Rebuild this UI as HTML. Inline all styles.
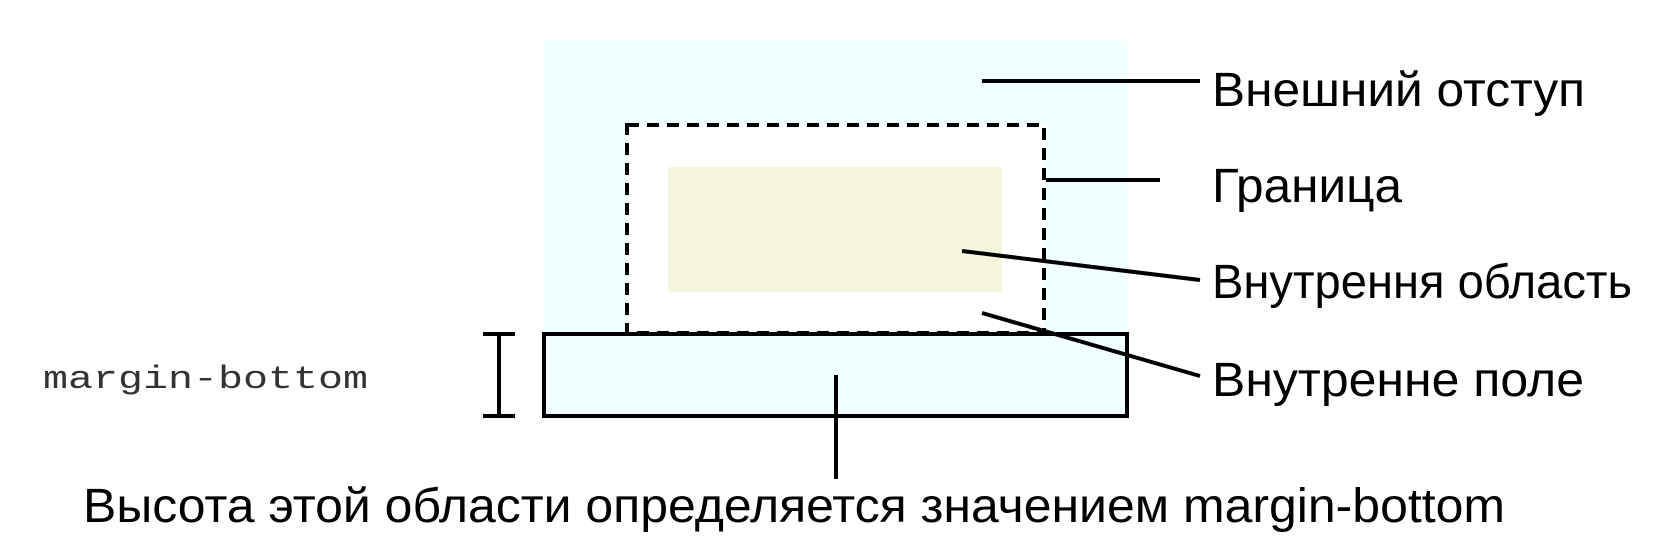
<!DOCTYPE html>
<html><head><meta charset="utf-8"><style>html,body{margin:0;padding:0;background:#fff}svg{display:block}</style></head>
<body>
<svg width="1667" height="542" viewBox="0 0 1667 542" xmlns="http://www.w3.org/2000/svg">
<rect x="543" y="41" width="584" height="375" fill="#f0ffff"/>
<rect x="627" y="125" width="417" height="208" fill="#fff"/>
<rect x="627" y="125" width="417" height="208" fill="none" stroke="#000" stroke-width="4" stroke-dasharray="12,8"/>
<rect x="668" y="167" width="334" height="125" fill="#f5f5dc"/>
<rect x="544" y="334" width="583" height="82" fill="#f0ffff" stroke="#000" stroke-width="4"/>
<g stroke="#000" stroke-width="4" fill="none">
<line x1="499" y1="334" x2="499" y2="416"/>
<line x1="483" y1="334" x2="515" y2="334"/>
<line x1="483" y1="416" x2="515" y2="416"/>
<line x1="836" y1="375" x2="836" y2="479"/>
<line x1="962" y1="251" x2="1200" y2="280"/>
<line x1="982" y1="313" x2="1200" y2="376"/>
<line x1="982" y1="81" x2="1200" y2="81"/>
<line x1="1046" y1="180" x2="1160" y2="180"/>
</g>
<g font-family="Liberation Sans, sans-serif" font-size="48" fill="#000">
<text x="1212" y="106" textLength="373" lengthAdjust="spacingAndGlyphs">Внешний отступ</text>
<text x="1212" y="202" textLength="190" lengthAdjust="spacingAndGlyphs">Граница</text>
<text x="1212" y="298" textLength="420" lengthAdjust="spacingAndGlyphs">Внутрення область</text>
<text x="1212" y="396" textLength="372" lengthAdjust="spacingAndGlyphs">Внутренне поле</text>
<text x="83" y="522" textLength="1422" lengthAdjust="spacingAndGlyphs">Высота этой области определяется значением margin-bottom</text>
</g>
<text x="43" y="388" font-family="Liberation Mono, monospace" font-size="32" fill="#333" textLength="325" lengthAdjust="spacingAndGlyphs">margin-bottom</text>
</svg>
</body></html>
